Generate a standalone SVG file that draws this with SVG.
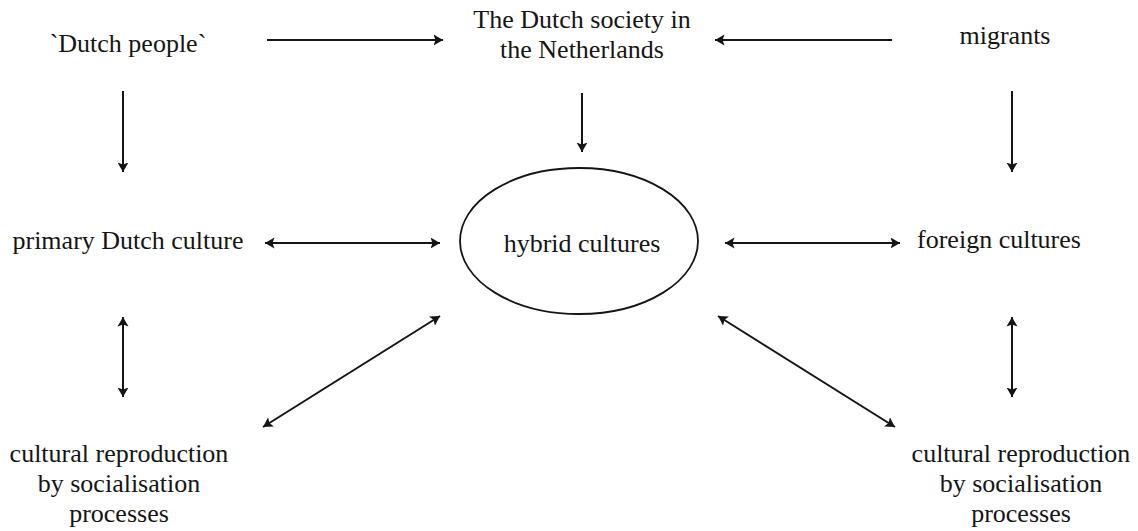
<svg xmlns="http://www.w3.org/2000/svg" width="1138" height="531" viewBox="0 0 1138 531">
<style>
text{font-family:"Liberation Serif","Times New Roman",serif;font-size:26px;fill:#151515;text-anchor:middle}
.c{stroke:#151515;stroke-width:2;fill:none;marker-end:url(#ah)}
.d{marker-start:url(#ah)}
</style>
<defs>
<marker id="ah" markerUnits="userSpaceOnUse" markerWidth="10" markerHeight="12" refX="9.5" refY="6" orient="auto-start-reverse" viewBox="0 0 10 12">
<path d="M0,0.5 L9.5,6 L0,11.5 L2,6 z" fill="#151515"/>
</marker>
</defs>
<rect width="1138" height="531" fill="#fff"/>
<g id="dutch-people"><text x="128" y="52">`Dutch people`</text></g>
<g id="dutch-society"><text x="582" y="28">The Dutch society in</text><text x="582" y="58">the Netherlands</text></g>
<g id="migrants"><text x="1005" y="44">migrants</text></g>
<g id="primary-culture"><text x="128" y="249">primary Dutch culture</text></g>
<g id="hybrid"><ellipse cx="579" cy="241" rx="119" ry="73" fill="none" stroke="#151515" stroke-width="1.8"/><text x="582" y="252">hybrid cultures</text></g>
<g id="foreign-cultures"><text x="999" y="248">foreign cultures</text></g>
<g id="reproduction-left"><text x="119" y="462">cultural reproduction</text><text x="119" y="492">by socialisation</text><text x="119" y="522">processes</text></g>
<g id="reproduction-right"><text x="1021" y="462">cultural reproduction</text><text x="1021" y="492">by socialisation</text><text x="1021" y="522">processes</text></g>
<g id="connectors">
<line class="c" x1="267" y1="40" x2="443" y2="40"/>
<line class="c" x1="892" y1="40" x2="715" y2="40"/>
<line class="c" x1="123" y1="91" x2="123" y2="172"/>
<line class="c" x1="582" y1="93" x2="582" y2="152"/>
<line class="c" x1="1012" y1="91" x2="1012" y2="172"/>
<line class="c d" x1="265" y1="243" x2="440" y2="243"/>
<line class="c d" x1="725" y1="243" x2="900" y2="243"/>
<line class="c d" x1="123" y1="317" x2="123" y2="397"/>
<line class="c d" x1="1012" y1="317" x2="1012" y2="397"/>
<line class="c d" x1="263" y1="427" x2="440" y2="316"/>
<line class="c d" x1="718" y1="316" x2="895" y2="427"/>
</g>
</svg>
